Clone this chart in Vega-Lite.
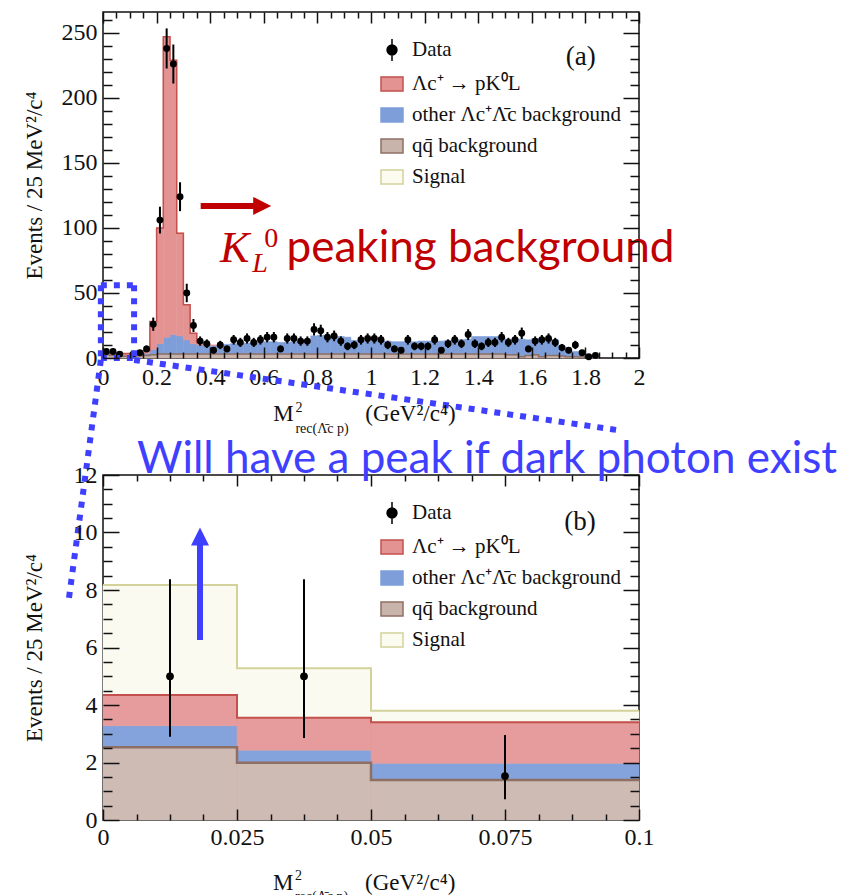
{
  "$schema": "https://vega.github.io/schema/vega-lite/v6.json",
  "padding": {"left": 22, "top": 10, "right": 2, "bottom": 0},
  "bounds": "flush",
  "spacing": 117,
  "config": {
    "font": "Liberation Serif",
    "view": {"stroke": "#111111", "strokeWidth": 1.5},
    "axis": {"grid": false, "domain": false, "labelFont": "Liberation Serif", "labelFontSize": 24, "labelColor": "#111111", "titleFont": "Liberation Serif", "titleFontSize": 23, "titleFontWeight": "normal", "titleColor": "#111111", "tickColor": "#111111", "tickWidth": 1.5, "labelFlush": false, "labelOverlap": false},
    "legend": {"labelFont": "Liberation Serif", "labelFontSize": 21, "labelColor": "#111111"}
  },
  "datasets": {
    "topmc": [
      {"lo": 0, "hi": 0.025, "a_qq": 2.5, "b_oth": 0.75, "c_kl": 1.05},
      {"lo": 0.025, "hi": 0.05, "a_qq": 2.0, "b_oth": 0.45, "c_kl": 1.15},
      {"lo": 0.05, "hi": 0.075, "a_qq": 1.4, "b_oth": 0.6, "c_kl": 1.4},
      {"lo": 0.075, "hi": 0.1, "a_qq": 1.4, "b_oth": 0.6, "c_kl": 1.4},
      {"lo": 0.1, "hi": 0.125, "a_qq": 1.5, "b_oth": 0.7, "c_kl": 1.3},
      {"lo": 0.125, "hi": 0.15, "a_qq": 1.8, "b_oth": 0.9, "c_kl": 1.3},
      {"lo": 0.15, "hi": 0.175, "a_qq": 2, "b_oth": 1.5, "c_kl": 2},
      {"lo": 0.175, "hi": 0.2, "a_qq": 2.5, "b_oth": 4, "c_kl": 21.5},
      {"lo": 0.2, "hi": 0.225, "a_qq": 3, "b_oth": 8, "c_kl": 89},
      {"lo": 0.225, "hi": 0.25, "a_qq": 3, "b_oth": 13, "c_kl": 231},
      {"lo": 0.25, "hi": 0.275, "a_qq": 3, "b_oth": 15, "c_kl": 211},
      {"lo": 0.275, "hi": 0.3, "a_qq": 3, "b_oth": 14, "c_kl": 79},
      {"lo": 0.3, "hi": 0.325, "a_qq": 3, "b_oth": 11, "c_kl": 27},
      {"lo": 0.325, "hi": 0.35, "a_qq": 3, "b_oth": 8, "c_kl": 8},
      {"lo": 0.35, "hi": 0.375, "a_qq": 3, "b_oth": 7, "c_kl": 2},
      {"lo": 0.375, "hi": 0.4, "a_qq": 3, "b_oth": 7, "c_kl": 0.5},
      {"lo": 0.4, "hi": 0.425, "a_qq": 3, "b_oth": 6.7, "c_kl": 0.3},
      {"lo": 0.425, "hi": 0.45, "a_qq": 3, "b_oth": 7, "c_kl": 0},
      {"lo": 0.45, "hi": 0.475, "a_qq": 3, "b_oth": 7.5, "c_kl": 0},
      {"lo": 0.475, "hi": 0.5, "a_qq": 3, "b_oth": 8, "c_kl": 0},
      {"lo": 0.5, "hi": 0.525, "a_qq": 3, "b_oth": 8, "c_kl": 0},
      {"lo": 0.525, "hi": 0.55, "a_qq": 3, "b_oth": 8.5, "c_kl": 0},
      {"lo": 0.55, "hi": 0.575, "a_qq": 3, "b_oth": 9, "c_kl": 0},
      {"lo": 0.575, "hi": 0.6, "a_qq": 3, "b_oth": 9, "c_kl": 0},
      {"lo": 0.6, "hi": 0.625, "a_qq": 3, "b_oth": 9.5, "c_kl": 0},
      {"lo": 0.625, "hi": 0.65, "a_qq": 3, "b_oth": 9.5, "c_kl": 0},
      {"lo": 0.65, "hi": 0.675, "a_qq": 3, "b_oth": 9, "c_kl": 0},
      {"lo": 0.675, "hi": 0.7, "a_qq": 3, "b_oth": 9, "c_kl": 0},
      {"lo": 0.7, "hi": 0.725, "a_qq": 3, "b_oth": 9.5, "c_kl": 0},
      {"lo": 0.725, "hi": 0.75, "a_qq": 3, "b_oth": 10, "c_kl": 0},
      {"lo": 0.75, "hi": 0.775, "a_qq": 3, "b_oth": 11, "c_kl": 0},
      {"lo": 0.775, "hi": 0.8, "a_qq": 3, "b_oth": 14, "c_kl": 0},
      {"lo": 0.8, "hi": 0.825, "a_qq": 3, "b_oth": 14.5, "c_kl": 0},
      {"lo": 0.825, "hi": 0.85, "a_qq": 3, "b_oth": 14, "c_kl": 0},
      {"lo": 0.85, "hi": 0.875, "a_qq": 3, "b_oth": 14, "c_kl": 0},
      {"lo": 0.875, "hi": 0.9, "a_qq": 3, "b_oth": 13.5, "c_kl": 0},
      {"lo": 0.9, "hi": 0.925, "a_qq": 3, "b_oth": 13, "c_kl": 0},
      {"lo": 0.925, "hi": 0.95, "a_qq": 3, "b_oth": 10.5, "c_kl": 0},
      {"lo": 0.95, "hi": 0.975, "a_qq": 3, "b_oth": 10, "c_kl": 0},
      {"lo": 0.975, "hi": 1.0, "a_qq": 3, "b_oth": 10, "c_kl": 0},
      {"lo": 1.0, "hi": 1.025, "a_qq": 3, "b_oth": 10, "c_kl": 0},
      {"lo": 1.025, "hi": 1.05, "a_qq": 3, "b_oth": 10, "c_kl": 0},
      {"lo": 1.05, "hi": 1.075, "a_qq": 3, "b_oth": 10, "c_kl": 0},
      {"lo": 1.075, "hi": 1.1, "a_qq": 3, "b_oth": 9.5, "c_kl": 0},
      {"lo": 1.1, "hi": 1.125, "a_qq": 3, "b_oth": 9.5, "c_kl": 0},
      {"lo": 1.125, "hi": 1.15, "a_qq": 3, "b_oth": 9.5, "c_kl": 0},
      {"lo": 1.15, "hi": 1.175, "a_qq": 3, "b_oth": 9.5, "c_kl": 0},
      {"lo": 1.175, "hi": 1.2, "a_qq": 3, "b_oth": 10, "c_kl": 0},
      {"lo": 1.2, "hi": 1.225, "a_qq": 3, "b_oth": 10, "c_kl": 0},
      {"lo": 1.225, "hi": 1.25, "a_qq": 3, "b_oth": 10, "c_kl": 0},
      {"lo": 1.25, "hi": 1.275, "a_qq": 3, "b_oth": 10, "c_kl": 0},
      {"lo": 1.275, "hi": 1.3, "a_qq": 3, "b_oth": 10.5, "c_kl": 0},
      {"lo": 1.3, "hi": 1.325, "a_qq": 3, "b_oth": 11, "c_kl": 0},
      {"lo": 1.325, "hi": 1.35, "a_qq": 3, "b_oth": 11, "c_kl": 0},
      {"lo": 1.35, "hi": 1.375, "a_qq": 3, "b_oth": 11.5, "c_kl": 0},
      {"lo": 1.375, "hi": 1.4, "a_qq": 3, "b_oth": 13.5, "c_kl": 0},
      {"lo": 1.4, "hi": 1.425, "a_qq": 3, "b_oth": 13.5, "c_kl": 0},
      {"lo": 1.425, "hi": 1.45, "a_qq": 3, "b_oth": 13.5, "c_kl": 0},
      {"lo": 1.45, "hi": 1.475, "a_qq": 3, "b_oth": 13.5, "c_kl": 0},
      {"lo": 1.475, "hi": 1.5, "a_qq": 3, "b_oth": 13, "c_kl": 0},
      {"lo": 1.5, "hi": 1.525, "a_qq": 2.5, "b_oth": 12, "c_kl": 0},
      {"lo": 1.525, "hi": 1.55, "a_qq": 2.5, "b_oth": 12, "c_kl": 0},
      {"lo": 1.55, "hi": 1.575, "a_qq": 1, "b_oth": 13.5, "c_kl": 0},
      {"lo": 1.575, "hi": 1.6, "a_qq": 2, "b_oth": 12, "c_kl": 0},
      {"lo": 1.6, "hi": 1.625, "a_qq": 2.5, "b_oth": 12.5, "c_kl": 0},
      {"lo": 1.625, "hi": 1.65, "a_qq": 1, "b_oth": 14, "c_kl": 0},
      {"lo": 1.65, "hi": 1.675, "a_qq": 2, "b_oth": 12.5, "c_kl": 0},
      {"lo": 1.675, "hi": 1.7, "a_qq": 2, "b_oth": 12, "c_kl": 0},
      {"lo": 1.7, "hi": 1.725, "a_qq": 1.5, "b_oth": 7.5, "c_kl": 0},
      {"lo": 1.725, "hi": 1.75, "a_qq": 1, "b_oth": 6, "c_kl": 0},
      {"lo": 1.75, "hi": 1.775, "a_qq": 1, "b_oth": 4, "c_kl": 0},
      {"lo": 1.775, "hi": 1.8, "a_qq": 0.8, "b_oth": 2.2, "c_kl": 0},
      {"lo": 1.8, "hi": 1.825, "a_qq": 0.5, "b_oth": 1, "c_kl": 0},
      {"lo": 1.825, "hi": 1.85, "a_qq": 0.3, "b_oth": 0.5, "c_kl": 0}
    ],
    "toppts": [
      {"x": 0.0125, "n": 5, "e": 2.2}, {"x": 0.0375, "n": 5, "e": 2.2}, {"x": 0.0625, "n": 3, "e": 1.7},
      {"x": 0.1125, "n": 3, "e": 1.7}, {"x": 0.1375, "n": 4, "e": 2}, {"x": 0.1625, "n": 7, "e": 2.6},
      {"x": 0.1875, "n": 26, "e": 5.1}, {"x": 0.2125, "n": 106, "e": 10.3}, {"x": 0.2375, "n": 238, "e": 15.4},
      {"x": 0.2625, "n": 226, "e": 15}, {"x": 0.2875, "n": 124, "e": 11.1}, {"x": 0.3125, "n": 50, "e": 7.1},
      {"x": 0.3375, "n": 25, "e": 5}, {"x": 0.3625, "n": 13, "e": 3.6}, {"x": 0.3875, "n": 11, "e": 3.3},
      {"x": 0.4125, "n": 6, "e": 2.4}, {"x": 0.4375, "n": 10, "e": 3.2}, {"x": 0.4625, "n": 7, "e": 2.6},
      {"x": 0.4875, "n": 14, "e": 3.7}, {"x": 0.5125, "n": 12, "e": 3.5}, {"x": 0.5375, "n": 15, "e": 3.9},
      {"x": 0.5625, "n": 12, "e": 3.5}, {"x": 0.5875, "n": 14, "e": 3.7}, {"x": 0.6125, "n": 16, "e": 4},
      {"x": 0.6375, "n": 16, "e": 4}, {"x": 0.6625, "n": 7, "e": 2.6}, {"x": 0.6875, "n": 15, "e": 3.9},
      {"x": 0.7125, "n": 15, "e": 3.9}, {"x": 0.7375, "n": 13, "e": 3.6}, {"x": 0.7625, "n": 13, "e": 3.6},
      {"x": 0.7875, "n": 22, "e": 4.7}, {"x": 0.8125, "n": 21, "e": 4.6}, {"x": 0.8375, "n": 16, "e": 4},
      {"x": 0.8625, "n": 17, "e": 4.1}, {"x": 0.8875, "n": 13, "e": 3.6}, {"x": 0.9125, "n": 9, "e": 3},
      {"x": 0.9375, "n": 10, "e": 3.2}, {"x": 0.9625, "n": 14, "e": 3.7}, {"x": 0.9875, "n": 15, "e": 3.9},
      {"x": 1.0125, "n": 15, "e": 3.9}, {"x": 1.0375, "n": 14, "e": 3.7}, {"x": 1.0625, "n": 10, "e": 3.2},
      {"x": 1.0875, "n": 7, "e": 2.6}, {"x": 1.1125, "n": 6, "e": 2.4}, {"x": 1.1375, "n": 14, "e": 3.7},
      {"x": 1.1625, "n": 9, "e": 3}, {"x": 1.1875, "n": 9, "e": 3}, {"x": 1.2125, "n": 9, "e": 3},
      {"x": 1.2375, "n": 14, "e": 3.7}, {"x": 1.2625, "n": 6, "e": 2.4}, {"x": 1.2875, "n": 11, "e": 3.3},
      {"x": 1.3125, "n": 14, "e": 3.7}, {"x": 1.3375, "n": 11, "e": 3.3}, {"x": 1.3625, "n": 18, "e": 4.2},
      {"x": 1.3875, "n": 11, "e": 3.3}, {"x": 1.4125, "n": 9, "e": 3}, {"x": 1.4375, "n": 12, "e": 3.5},
      {"x": 1.4625, "n": 12, "e": 3.5}, {"x": 1.4875, "n": 16, "e": 4}, {"x": 1.5125, "n": 12, "e": 3.5},
      {"x": 1.5375, "n": 14, "e": 3.7}, {"x": 1.5625, "n": 19, "e": 4.4}, {"x": 1.5875, "n": 7, "e": 2.6},
      {"x": 1.6125, "n": 13, "e": 3.6}, {"x": 1.6375, "n": 14, "e": 3.7}, {"x": 1.6625, "n": 15, "e": 3.9},
      {"x": 1.6875, "n": 12, "e": 3.5}, {"x": 1.7125, "n": 8, "e": 2.8}, {"x": 1.7375, "n": 6, "e": 2.4},
      {"x": 1.7625, "n": 10, "e": 3.2}, {"x": 1.7875, "n": 4, "e": 2}, {"x": 1.8125, "n": 1, "e": 1},
      {"x": 1.8375, "n": 2, "e": 1.4}
    ],
    "botmc": [
      {"lo": 0, "hi": 0.025, "a_qq": 2.53, "b_oth": 0.75, "c_kl": 1.07, "d_sig": 3.82},
      {"lo": 0.025, "hi": 0.05, "a_qq": 1.99, "b_oth": 0.44, "c_kl": 1.13, "d_sig": 1.72},
      {"lo": 0.05, "hi": 0.1, "a_qq": 1.39, "b_oth": 0.58, "c_kl": 1.43, "d_sig": 0.4}
    ],
    "botpts": [
      {"x": 0.0125, "n": 5, "lo": 2.9, "hi": 8.37},
      {"x": 0.0375, "n": 5, "lo": 2.85, "hi": 8.37},
      {"x": 0.075, "n": 1.53, "lo": 0.72, "hi": 2.96}
    ],
    "leg": [
      {"label": "Data"},
      {"label": "Λc⁺ → pK⁰L"},
      {"label": "other Λc⁺Λ̄c background"},
      {"label": "qq̄ background"},
      {"label": "Signal"}
    ],
    "ax": [{"a": 0, "b": 0}]
  },
  "resolve": {"scale": {"x": "independent", "y": "independent", "color": "independent", "fill": "independent", "stroke": "independent", "shape": "independent"}, "legend": {"fill": "independent", "stroke": "independent", "shape": "independent"}},
  "vconcat": [
    {
      "width": 536,
      "height": 346,
      "resolve": {"axis": {"x": "independent", "y": "independent"}},
      "layer": [
        {
          "data": {"name": "topmc"},
          "transform": [
            {"fold": ["a_qq", "b_oth", "c_kl"], "as": ["comp", "v"]},
            {"stack": "v", "groupby": ["lo"], "sort": [{"field": "comp", "order": "ascending"}], "as": ["y0", "y1"]},
            {"filter": "datum.comp == 'a_qq'"}
          ],
          "mark": {"type": "rect", "fill": "#C9B4AC", "stroke": "#C9B4AC", "strokeWidth": 0.6},
          "encoding": {
            "x": {"field": "lo", "type": "quantitative", "scale": {"domain": [0, 2], "nice": false}, "axis": null},
            "x2": {"field": "hi"},
            "y": {"field": "y0", "type": "quantitative", "scale": {"domain": [0, 266], "nice": false}, "axis": null},
            "y2": {"field": "y1"}
          }
        },
        {
          "data": {"name": "topmc"},
          "transform": [
            {"fold": ["a_qq", "b_oth", "c_kl"], "as": ["comp", "v"]},
            {"stack": "v", "groupby": ["lo"], "sort": [{"field": "comp", "order": "ascending"}], "as": ["y0", "y1"]},
            {"filter": "datum.comp == 'b_oth'"}
          ],
          "mark": {"type": "rect", "fill": "#7E9ED9", "stroke": "#7E9ED9", "strokeWidth": 0.6},
          "encoding": {
            "x": {"field": "lo", "type": "quantitative", "scale": {"domain": [0, 2], "nice": false}, "axis": null},
            "x2": {"field": "hi"},
            "y": {"field": "y0", "type": "quantitative", "scale": {"domain": [0, 266], "nice": false}, "axis": null},
            "y2": {"field": "y1"}
          }
        },
        {
          "data": {"name": "topmc"},
          "transform": [
            {"fold": ["a_qq", "b_oth", "c_kl"], "as": ["comp", "v"]},
            {"stack": "v", "groupby": ["lo"], "sort": [{"field": "comp", "order": "ascending"}], "as": ["y0", "y1"]},
            {"filter": "datum.comp == 'c_kl' && datum.v > 0"}
          ],
          "mark": {"type": "rect", "fill": "#E49393", "stroke": "#E49393", "strokeWidth": 0.6},
          "encoding": {
            "x": {"field": "lo", "type": "quantitative", "scale": {"domain": [0, 2], "nice": false}, "axis": null},
            "x2": {"field": "hi"},
            "y": {"field": "y0", "type": "quantitative", "scale": {"domain": [0, 266], "nice": false}, "axis": null},
            "y2": {"field": "y1"}
          }
        },
        {
          "data": {"name": "topmc"},
          "transform": [
            {"fold": ["a_qq", "b_oth", "c_kl"], "as": ["comp", "v"]},
            {"stack": "v", "groupby": ["lo"], "sort": [{"field": "comp", "order": "ascending"}], "as": ["y0", "y1"]},
            {"filter": "datum.comp == 'c_kl' && datum.v > 0.4"},
            {"fold": ["lo", "hi"], "as": ["k", "edge"]},
            {"window": [{"op": "row_number", "as": "rn"}], "sort": [{"field": "lo"}, {"field": "edge"}]}
          ],
          "mark": {"type": "line", "color": "#C4504E", "strokeWidth": 1.5},
          "encoding": {
            "x": {"field": "edge", "type": "quantitative", "scale": {"domain": [0, 2], "nice": false}, "axis": null},
            "y": {"field": "y1", "type": "quantitative", "scale": {"domain": [0, 266], "nice": false}, "axis": null},
            "order": {"field": "rn", "type": "quantitative"}
          }
        },
        {
          "data": {"name": "topmc"},
          "transform": [
            {"fold": ["a_qq", "b_oth", "c_kl"], "as": ["comp", "v"]},
            {"stack": "v", "groupby": ["lo"], "sort": [{"field": "comp", "order": "ascending"}], "as": ["y0", "y1"]},
            {"filter": "datum.comp == 'a_qq'"},
            {"fold": ["lo", "hi"], "as": ["k", "edge"]},
            {"window": [{"op": "row_number", "as": "rn"}], "sort": [{"field": "lo"}, {"field": "edge"}]}
          ],
          "mark": {"type": "line", "color": "#8E6F64", "strokeWidth": 1.5},
          "encoding": {
            "x": {"field": "edge", "type": "quantitative", "scale": {"domain": [0, 2], "nice": false}, "axis": null},
            "y": {"field": "y1", "type": "quantitative", "scale": {"domain": [0, 266], "nice": false}, "axis": null},
            "order": {"field": "rn", "type": "quantitative"}
          }
        },
        {
          "data": {"name": "toppts"},
          "mark": {"type": "errorbar", "color": "#000000", "thickness": 2},
          "encoding": {
            "x": {"field": "x", "type": "quantitative", "scale": {"domain": [0, 2], "nice": false}, "axis": null},
            "y": {"field": "n", "type": "quantitative", "scale": {"domain": [0, 266], "nice": false}, "axis": null},
            "yError": {"field": "e"}
          }
        },
        {
          "data": {"name": "toppts"},
          "mark": {"type": "circle", "color": "#000000", "size": 48, "opacity": 1},
          "encoding": {
            "x": {"field": "x", "type": "quantitative", "scale": {"domain": [0, 2], "nice": false}, "axis": null},
            "y": {"field": "n", "type": "quantitative", "scale": {"domain": [0, 266], "nice": false}, "axis": null}
          }
        },
        {
          "data": {"name": "leg"},
          "mark": {"type": "point", "filled": true, "opacity": 0},
          "encoding": {
            "fill": {"field": "label", "type": "nominal", "scale": {"domain": ["Data", "Λc⁺ → pK⁰L", "other Λc⁺Λ̄c background", "qq̄ background", "Signal"], "range": ["#000000", "#E49393", "#7E9ED9", "#C9B4AC", "#FBFBF0"]}, "legend": {"orient": "none", "legendX": 277, "legendY": 26, "title": null, "symbolSize": 484, "labelOffset": 8, "rowPadding": 8, "symbolStrokeWidth": 1.5, "symbolOpacity": 1, "padding": 0, "labelLimit": 400, "labelFontSize": 21}},
            "stroke": {"field": "label", "type": "nominal", "scale": {"domain": ["Data", "Λc⁺ → pK⁰L", "other Λc⁺Λ̄c background", "qq̄ background", "Signal"], "range": ["#000000", "#C4504E", "#7E9ED9", "#8E6F64", "#D2D29A"]}, "legend": {"orient": "none", "legendX": 277, "legendY": 26, "title": null, "symbolSize": 484, "labelOffset": 8, "rowPadding": 8, "symbolStrokeWidth": 1.5, "symbolOpacity": 1, "padding": 0, "labelLimit": 400, "labelFontSize": 21}},
            "shape": {"field": "label", "type": "nominal", "scale": {"domain": ["Data", "Λc⁺ → pK⁰L", "other Λc⁺Λ̄c background", "qq̄ background", "Signal"], "range": ["M0,-1V1M0.45,0A0.45,0.45,0,1,1,-0.45,0A0.45,0.45,0,1,1,0.45,0Z", "M-1,-0.64H1V0.64H-1Z", "M-1,-0.64H1V0.64H-1Z", "M-1,-0.64H1V0.64H-1Z", "M-1,-0.64H1V0.64H-1Z"]}, "legend": {"orient": "none", "legendX": 277, "legendY": 26, "title": null, "symbolSize": 484, "labelOffset": 8, "rowPadding": 8, "symbolStrokeWidth": 1.5, "symbolOpacity": 1, "padding": 0, "labelLimit": 400, "labelFontSize": 21}}
          }
        },
        {
          "data": {"values": [{"x": 1.783, "y": 231.5, "t": "(a)"}]},
          "mark": {"type": "text", "font": "Liberation Serif", "fontSize": 27, "color": "#111111", "align": "center", "baseline": "middle"},
          "encoding": {
            "x": {"field": "x", "type": "quantitative", "scale": {"domain": [0, 2], "nice": false}, "axis": null},
            "y": {"field": "y", "type": "quantitative", "scale": {"domain": [0, 266], "nice": false}, "axis": null},
            "text": {"field": "t"}
          }
        },
        {
          "data": {"values": [{"x": 0.3645, "x2": 0.566, "y": 116.9}]},
          "mark": {"type": "rule", "color": "#C00000", "strokeWidth": 6},
          "encoding": {
            "x": {"field": "x", "type": "quantitative", "scale": {"domain": [0, 2], "nice": false}, "axis": null},
            "x2": {"field": "x2"},
            "y": {"field": "y", "type": "quantitative", "scale": {"domain": [0, 266], "nice": false}, "axis": null}
          }
        },
        {
          "data": {"values": [{"x": 0.594, "y": 116.9}]},
          "mark": {"type": "point", "shape": "M-1,-1L1,0L-1,1Z", "filled": true, "color": "#C00000", "size": 324, "opacity": 1},
          "encoding": {
            "x": {"field": "x", "type": "quantitative", "scale": {"domain": [0, 2], "nice": false}, "axis": null},
            "y": {"field": "y", "type": "quantitative", "scale": {"domain": [0, 266], "nice": false}, "axis": null}
          }
        },
        {
          "data": {"values": [{"x": 0.685, "y": 74, "t": "peaking background"}]},
          "mark": {"type": "text", "font": "Lato", "fontSize": 44, "color": "#C00000", "align": "left", "baseline": "alphabetic"},
          "encoding": {
            "x": {"field": "x", "type": "quantitative", "scale": {"domain": [0, 2], "nice": false}, "axis": null},
            "y": {"field": "y", "type": "quantitative", "scale": {"domain": [0, 266], "nice": false}, "axis": null},
            "text": {"field": "t"}
          }
        },
        {
          "data": {"values": [{"x": 0.437, "y": 74, "t": "K"}]},
          "mark": {"type": "text", "font": "Liberation Serif", "fontStyle": "italic", "fontSize": 44, "color": "#C00000", "align": "left", "baseline": "alphabetic"},
          "encoding": {
            "x": {"field": "x", "type": "quantitative", "scale": {"domain": [0, 2], "nice": false}, "axis": null},
            "y": {"field": "y", "type": "quantitative", "scale": {"domain": [0, 266], "nice": false}, "axis": null},
            "text": {"field": "t"}
          }
        },
        {
          "data": {"values": [{"x": 0.602, "y": 85.6, "t": "0"}]},
          "mark": {"type": "text", "font": "Liberation Serif", "fontSize": 28, "color": "#C00000", "align": "left", "baseline": "alphabetic"},
          "encoding": {
            "x": {"field": "x", "type": "quantitative", "scale": {"domain": [0, 2], "nice": false}, "axis": null},
            "y": {"field": "y", "type": "quantitative", "scale": {"domain": [0, 266], "nice": false}, "axis": null},
            "text": {"field": "t"}
          }
        },
        {
          "data": {"values": [{"x": 0.557, "y": 66.2, "t": "L"}]},
          "mark": {"type": "text", "font": "Liberation Serif", "fontStyle": "italic", "fontSize": 28, "color": "#C00000", "align": "left", "baseline": "alphabetic"},
          "encoding": {
            "x": {"field": "x", "type": "quantitative", "scale": {"domain": [0, 2], "nice": false}, "axis": null},
            "y": {"field": "y", "type": "quantitative", "scale": {"domain": [0, 266], "nice": false}, "axis": null},
            "text": {"field": "t"}
          }
        },
        {
          "data": {"values": [
            {"x": -0.008, "y": 56, "x2": 0.116, "y2": 56},
            {"x": -0.008, "y": 56, "x2": -0.008, "y2": 0},
            {"x": 0.116, "y": 56, "x2": 0.116, "y2": 0},
            {"x": -0.008, "y": 0, "x2": 0.116, "y2": 0},
            {"x": 0.116, "y": -1.5, "x2": 1.94, "y2": -56},
            {"x": -0.008, "y": -1.5, "x2": -0.127, "y2": -184.6}
          ]},
          "mark": {"type": "rule", "color": "#3F3FFF", "strokeWidth": 6, "strokeDash": [6, 7], "strokeCap": "butt"},
          "encoding": {
            "x": {"field": "x", "type": "quantitative", "scale": {"domain": [0, 2], "nice": false}, "axis": null},
            "y": {"field": "y", "type": "quantitative", "scale": {"domain": [0, 266], "nice": false}, "axis": null},
            "x2": {"field": "x2"},
            "y2": {"field": "y2"}
          }
        },
        {
          "data": {"values": [{"x": 0.6355, "y": -48.5, "t": "M"}, {"x": 0.979, "y": -48.5, "t": "(GeV²/c⁴)"}]},
          "mark": {"type": "text", "font": "Liberation Serif", "fontSize": 23, "color": "#111111", "align": "left", "baseline": "alphabetic"},
          "encoding": {
            "x": {"field": "x", "type": "quantitative", "scale": {"domain": [0, 2], "nice": false}, "axis": null},
            "y": {"field": "y", "type": "quantitative", "scale": {"domain": [0, 266], "nice": false}, "axis": null},
            "text": {"field": "t"}
          }
        },
        {
          "data": {"values": [{"x": 0.718, "y": -41.5, "t": "2"}, {"x": 0.718, "y": -57.7, "t": "rec(Λ̄c p)"}]},
          "mark": {"type": "text", "font": "Liberation Serif", "fontSize": 14, "color": "#111111", "align": "left", "baseline": "alphabetic"},
          "encoding": {
            "x": {"field": "x", "type": "quantitative", "scale": {"domain": [0, 2], "nice": false}, "axis": null},
            "y": {"field": "y", "type": "quantitative", "scale": {"domain": [0, 266], "nice": false}, "axis": null},
            "text": {"field": "t"}
          }
        },
        {
          "data": {"name": "ax"},
          "mark": {"type": "point", "opacity": 0},
          "encoding": {
            "x": {"field": "a", "type": "quantitative", "scale": {"domain": [0, 2], "nice": false}, "axis": {"orient": "bottom", "values": [0, 0.2, 0.4, 0.6, 0.8, 1, 1.2, 1.4, 1.6, 1.8, 2], "labelExpr": "datum.value", "ticks": false, "labelPadding": 7, "title": null}},
            "y": {"field": "b", "type": "quantitative", "scale": {"domain": [0, 266], "nice": false}, "axis": {"orient": "left", "values": [0, 50, 100, 150, 200, 250], "ticks": false, "labelPadding": 6, "title": "Events / 25 MeV²/c⁴", "titlePadding": 15}}
          }
        },
        {
          "data": {"name": "ax"},
          "mark": {"type": "point", "opacity": 0},
          "encoding": {
            "x": {"field": "a", "type": "quantitative", "scale": {"domain": [0, 2], "nice": false}, "axis": {"orient": "bottom", "values": [0, 0.2, 0.4, 0.6, 0.8, 1, 1.2, 1.4, 1.6, 1.8, 2], "labels": false, "tickSize": -11, "title": null, "zindex": 1}},
            "y": {"field": "b", "type": "quantitative", "scale": {"domain": [0, 266], "nice": false}, "axis": {"orient": "left", "values": [0, 50, 100, 150, 200, 250], "labels": false, "tickSize": -16, "title": null, "zindex": 1}}
          }
        },
        {
          "data": {"name": "ax"},
          "mark": {"type": "point", "opacity": 0},
          "encoding": {
            "x": {"field": "a", "type": "quantitative", "scale": {"domain": [0, 2], "nice": false}, "axis": {"orient": "bottom", "values": [0.05, 0.1, 0.15, 0.25, 0.3, 0.35, 0.45, 0.5, 0.55, 0.65, 0.7, 0.75, 0.85, 0.9, 0.95, 1.05, 1.1, 1.15, 1.25, 1.3, 1.35, 1.45, 1.5, 1.55, 1.65, 1.7, 1.75, 1.85, 1.9, 1.95], "labels": false, "tickSize": -6, "title": null, "zindex": 1}},
            "y": {"field": "b", "type": "quantitative", "scale": {"domain": [0, 266], "nice": false}, "axis": {"orient": "left", "values": [10, 20, 30, 40, 60, 70, 80, 90, 110, 120, 130, 140, 160, 170, 180, 190, 210, 220, 230, 240, 260], "labels": false, "tickSize": -9, "title": null, "zindex": 1}}
          }
        },
        {
          "data": {"name": "ax"},
          "mark": {"type": "point", "opacity": 0},
          "encoding": {
            "x": {"field": "a", "type": "quantitative", "scale": {"domain": [0, 2], "nice": false}, "axis": {"orient": "top", "values": [0, 0.2, 0.4, 0.6, 0.8, 1, 1.2, 1.4, 1.6, 1.8, 2], "labels": false, "tickSize": -11, "title": null, "zindex": 1}},
            "y": {"field": "b", "type": "quantitative", "scale": {"domain": [0, 266], "nice": false}, "axis": {"orient": "right", "values": [0, 50, 100, 150, 200, 250], "labels": false, "tickSize": -16, "title": null, "zindex": 1}}
          }
        },
        {
          "data": {"name": "ax"},
          "mark": {"type": "point", "opacity": 0},
          "encoding": {
            "x": {"field": "a", "type": "quantitative", "scale": {"domain": [0, 2], "nice": false}, "axis": {"orient": "top", "values": [0.05, 0.1, 0.15, 0.25, 0.3, 0.35, 0.45, 0.5, 0.55, 0.65, 0.7, 0.75, 0.85, 0.9, 0.95, 1.05, 1.1, 1.15, 1.25, 1.3, 1.35, 1.45, 1.5, 1.55, 1.65, 1.7, 1.75, 1.85, 1.9, 1.95], "labels": false, "tickSize": -6, "title": null, "zindex": 1}},
            "y": {"field": "b", "type": "quantitative", "scale": {"domain": [0, 266], "nice": false}, "axis": {"orient": "right", "values": [10, 20, 30, 40, 60, 70, 80, 90, 110, 120, 130, 140, 160, 170, 180, 190, 210, 220, 230, 240, 260], "labels": false, "tickSize": -9, "title": null, "zindex": 1}}
          }
        }
      ]
    },
    {
      "width": 536,
      "height": 345,
      "resolve": {"axis": {"x": "independent", "y": "independent"}},
      "layer": [
        {
          "data": {"name": "botmc"},
          "transform": [
            {"fold": ["a_qq", "b_oth", "c_kl", "d_sig"], "as": ["comp", "v"]},
            {"stack": "v", "groupby": ["lo"], "sort": [{"field": "comp", "order": "ascending"}], "as": ["y0", "y1"]},
            {"filter": "datum.comp == 'a_qq'"}
          ],
          "mark": {"type": "rect", "fill": "#CDBBB4", "stroke": "#CDBBB4", "strokeWidth": 0.6},
          "encoding": {
            "x": {"field": "lo", "type": "quantitative", "scale": {"domain": [0, 0.1], "nice": false}, "axis": null},
            "x2": {"field": "hi"},
            "y": {"field": "y0", "type": "quantitative", "scale": {"domain": [0, 12], "nice": false}, "axis": null},
            "y2": {"field": "y1"}
          }
        },
        {
          "data": {"name": "botmc"},
          "transform": [
            {"fold": ["a_qq", "b_oth", "c_kl", "d_sig"], "as": ["comp", "v"]},
            {"stack": "v", "groupby": ["lo"], "sort": [{"field": "comp", "order": "ascending"}], "as": ["y0", "y1"]},
            {"filter": "datum.comp == 'b_oth'"}
          ],
          "mark": {"type": "rect", "fill": "#84A3DC", "stroke": "#84A3DC", "strokeWidth": 0.6},
          "encoding": {
            "x": {"field": "lo", "type": "quantitative", "scale": {"domain": [0, 0.1], "nice": false}, "axis": null},
            "x2": {"field": "hi"},
            "y": {"field": "y0", "type": "quantitative", "scale": {"domain": [0, 12], "nice": false}, "axis": null},
            "y2": {"field": "y1"}
          }
        },
        {
          "data": {"name": "botmc"},
          "transform": [
            {"fold": ["a_qq", "b_oth", "c_kl", "d_sig"], "as": ["comp", "v"]},
            {"stack": "v", "groupby": ["lo"], "sort": [{"field": "comp", "order": "ascending"}], "as": ["y0", "y1"]},
            {"filter": "datum.comp == 'c_kl'"}
          ],
          "mark": {"type": "rect", "fill": "#E69C9C", "stroke": "#E69C9C", "strokeWidth": 0.6},
          "encoding": {
            "x": {"field": "lo", "type": "quantitative", "scale": {"domain": [0, 0.1], "nice": false}, "axis": null},
            "x2": {"field": "hi"},
            "y": {"field": "y0", "type": "quantitative", "scale": {"domain": [0, 12], "nice": false}, "axis": null},
            "y2": {"field": "y1"}
          }
        },
        {
          "data": {"name": "botmc"},
          "transform": [
            {"fold": ["a_qq", "b_oth", "c_kl", "d_sig"], "as": ["comp", "v"]},
            {"stack": "v", "groupby": ["lo"], "sort": [{"field": "comp", "order": "ascending"}], "as": ["y0", "y1"]},
            {"filter": "datum.comp == 'd_sig'"}
          ],
          "mark": {"type": "rect", "fill": "#FAFAF0", "stroke": "#FAFAF0", "strokeWidth": 0.6},
          "encoding": {
            "x": {"field": "lo", "type": "quantitative", "scale": {"domain": [0, 0.1], "nice": false}, "axis": null},
            "x2": {"field": "hi"},
            "y": {"field": "y0", "type": "quantitative", "scale": {"domain": [0, 12], "nice": false}, "axis": null},
            "y2": {"field": "y1"}
          }
        },
        {
          "data": {"name": "botmc"},
          "transform": [
            {"fold": ["a_qq", "b_oth", "c_kl", "d_sig"], "as": ["comp", "v"]},
            {"stack": "v", "groupby": ["lo"], "sort": [{"field": "comp", "order": "ascending"}], "as": ["y0", "y1"]},
            {"filter": "datum.comp == 'd_sig'"},
            {"fold": ["lo", "hi"], "as": ["k", "edge"]},
            {"window": [{"op": "row_number", "as": "rn"}], "sort": [{"field": "lo"}, {"field": "edge"}]}
          ],
          "mark": {"type": "line", "color": "#D2D29A", "strokeWidth": 2},
          "encoding": {
            "x": {"field": "edge", "type": "quantitative", "scale": {"domain": [0, 0.1], "nice": false}, "axis": null},
            "y": {"field": "y1", "type": "quantitative", "scale": {"domain": [0, 12], "nice": false}, "axis": null},
            "order": {"field": "rn", "type": "quantitative"}
          }
        },
        {
          "data": {"name": "botmc"},
          "transform": [
            {"fold": ["a_qq", "b_oth", "c_kl", "d_sig"], "as": ["comp", "v"]},
            {"stack": "v", "groupby": ["lo"], "sort": [{"field": "comp", "order": "ascending"}], "as": ["y0", "y1"]},
            {"filter": "datum.comp == 'c_kl'"},
            {"fold": ["lo", "hi"], "as": ["k", "edge"]},
            {"window": [{"op": "row_number", "as": "rn"}], "sort": [{"field": "lo"}, {"field": "edge"}]}
          ],
          "mark": {"type": "line", "color": "#C4504E", "strokeWidth": 2},
          "encoding": {
            "x": {"field": "edge", "type": "quantitative", "scale": {"domain": [0, 0.1], "nice": false}, "axis": null},
            "y": {"field": "y1", "type": "quantitative", "scale": {"domain": [0, 12], "nice": false}, "axis": null},
            "order": {"field": "rn", "type": "quantitative"}
          }
        },
        {
          "data": {"name": "botmc"},
          "transform": [
            {"fold": ["a_qq", "b_oth", "c_kl", "d_sig"], "as": ["comp", "v"]},
            {"stack": "v", "groupby": ["lo"], "sort": [{"field": "comp", "order": "ascending"}], "as": ["y0", "y1"]},
            {"filter": "datum.comp == 'a_qq'"},
            {"fold": ["lo", "hi"], "as": ["k", "edge"]},
            {"window": [{"op": "row_number", "as": "rn"}], "sort": [{"field": "lo"}, {"field": "edge"}]}
          ],
          "mark": {"type": "line", "color": "#8E6F64", "strokeWidth": 2.5},
          "encoding": {
            "x": {"field": "edge", "type": "quantitative", "scale": {"domain": [0, 0.1], "nice": false}, "axis": null},
            "y": {"field": "y1", "type": "quantitative", "scale": {"domain": [0, 12], "nice": false}, "axis": null},
            "order": {"field": "rn", "type": "quantitative"}
          }
        },
        {
          "data": {"name": "botpts"},
          "mark": {"type": "rule", "color": "#000000", "strokeWidth": 2},
          "encoding": {
            "x": {"field": "x", "type": "quantitative", "scale": {"domain": [0, 0.1], "nice": false}, "axis": null},
            "y": {"field": "lo", "type": "quantitative", "scale": {"domain": [0, 12], "nice": false}, "axis": null},
            "y2": {"field": "hi"}
          }
        },
        {
          "data": {"name": "botpts"},
          "mark": {"type": "circle", "color": "#000000", "size": 60, "opacity": 1},
          "encoding": {
            "x": {"field": "x", "type": "quantitative", "scale": {"domain": [0, 0.1], "nice": false}, "axis": null},
            "y": {"field": "n", "type": "quantitative", "scale": {"domain": [0, 12], "nice": false}, "axis": null}
          }
        },
        {
          "data": {"name": "leg"},
          "mark": {"type": "point", "filled": true, "opacity": 0},
          "encoding": {
            "fill": {"field": "label", "type": "nominal", "scale": {"domain": ["Data", "Λc⁺ → pK⁰L", "other Λc⁺Λ̄c background", "qq̄ background", "Signal"], "range": ["#000000", "#E49393", "#7E9ED9", "#C9B4AC", "#FBFBF0"]}, "legend": {"orient": "none", "legendX": 277, "legendY": 26, "title": null, "symbolSize": 484, "labelOffset": 8, "rowPadding": 8, "symbolStrokeWidth": 1.5, "symbolOpacity": 1, "padding": 0, "labelLimit": 400, "labelFontSize": 21}},
            "stroke": {"field": "label", "type": "nominal", "scale": {"domain": ["Data", "Λc⁺ → pK⁰L", "other Λc⁺Λ̄c background", "qq̄ background", "Signal"], "range": ["#000000", "#C4504E", "#7E9ED9", "#8E6F64", "#D2D29A"]}, "legend": {"orient": "none", "legendX": 277, "legendY": 26, "title": null, "symbolSize": 484, "labelOffset": 8, "rowPadding": 8, "symbolStrokeWidth": 1.5, "symbolOpacity": 1, "padding": 0, "labelLimit": 400, "labelFontSize": 21}},
            "shape": {"field": "label", "type": "nominal", "scale": {"domain": ["Data", "Λc⁺ → pK⁰L", "other Λc⁺Λ̄c background", "qq̄ background", "Signal"], "range": ["M0,-1V1M0.45,0A0.45,0.45,0,1,1,-0.45,0A0.45,0.45,0,1,1,0.45,0Z", "M-1,-0.64H1V0.64H-1Z", "M-1,-0.64H1V0.64H-1Z", "M-1,-0.64H1V0.64H-1Z", "M-1,-0.64H1V0.64H-1Z"]}, "legend": {"orient": "none", "legendX": 277, "legendY": 26, "title": null, "symbolSize": 484, "labelOffset": 8, "rowPadding": 8, "symbolStrokeWidth": 1.5, "symbolOpacity": 1, "padding": 0, "labelLimit": 400, "labelFontSize": 21}}
          }
        },
        {
          "data": {"values": [{"x": 0.089, "y": 10.37, "t": "(b)"}]},
          "mark": {"type": "text", "font": "Liberation Serif", "fontSize": 27, "color": "#111111", "align": "center", "baseline": "middle"},
          "encoding": {
            "x": {"field": "x", "type": "quantitative", "scale": {"domain": [0, 0.1], "nice": false}, "axis": null},
            "y": {"field": "y", "type": "quantitative", "scale": {"domain": [0, 12], "nice": false}, "axis": null},
            "text": {"field": "t"}
          }
        },
        {
          "data": {"values": [{"x": 0.0181, "y": 6.26, "y2": 9.6}]},
          "mark": {"type": "rule", "color": "#3F3FFF", "strokeWidth": 6},
          "encoding": {
            "x": {"field": "x", "type": "quantitative", "scale": {"domain": [0, 0.1], "nice": false}, "axis": null},
            "y": {"field": "y", "type": "quantitative", "scale": {"domain": [0, 12], "nice": false}, "axis": null},
            "y2": {"field": "y2"}
          }
        },
        {
          "data": {"values": [{"x": 0.0181, "y": 9.86}]},
          "mark": {"type": "point", "shape": "M-1,1L0,-1L1,1Z", "filled": true, "color": "#3F3FFF", "size": 324, "opacity": 1},
          "encoding": {
            "x": {"field": "x", "type": "quantitative", "scale": {"domain": [0, 0.1], "nice": false}, "axis": null},
            "y": {"field": "y", "type": "quantitative", "scale": {"domain": [0, 12], "nice": false}, "axis": null}
          }
        },
        {
          "data": {"values": [{"x": 0.00634, "y": 12.07, "t": "Will have a peak if dark photon exist"}]},
          "mark": {"type": "text", "font": "Lato", "fontSize": 44, "color": "#3F3FFF", "align": "left", "baseline": "alphabetic"},
          "encoding": {
            "x": {"field": "x", "type": "quantitative", "scale": {"domain": [0, 0.1], "nice": false}, "axis": null},
            "y": {"field": "y", "type": "quantitative", "scale": {"domain": [0, 12], "nice": false}, "axis": null},
            "text": {"field": "t"}
          }
        },
        {
          "data": {"values": [{"x": 0.0317, "y": -2.43, "t": "M"}, {"x": 0.0489, "y": -2.43, "t": "(GeV²/c⁴)"}]},
          "mark": {"type": "text", "font": "Liberation Serif", "fontSize": 23, "color": "#111111", "align": "left", "baseline": "alphabetic"},
          "encoding": {
            "x": {"field": "x", "type": "quantitative", "scale": {"domain": [0, 0.1], "nice": false}, "axis": null},
            "y": {"field": "y", "type": "quantitative", "scale": {"domain": [0, 12], "nice": false}, "axis": null},
            "text": {"field": "t"}
          }
        },
        {
          "data": {"values": [{"x": 0.0358, "y": -2.09, "t": "2"}, {"x": 0.0358, "y": -2.8, "t": "rec(Λ̄c p)"}]},
          "mark": {"type": "text", "font": "Liberation Serif", "fontSize": 14, "color": "#111111", "align": "left", "baseline": "alphabetic"},
          "encoding": {
            "x": {"field": "x", "type": "quantitative", "scale": {"domain": [0, 0.1], "nice": false}, "axis": null},
            "y": {"field": "y", "type": "quantitative", "scale": {"domain": [0, 12], "nice": false}, "axis": null},
            "text": {"field": "t"}
          }
        },
        {
          "data": {"name": "ax"},
          "mark": {"type": "point", "opacity": 0},
          "encoding": {
            "x": {"field": "a", "type": "quantitative", "scale": {"domain": [0, 0.1], "nice": false}, "axis": {"orient": "bottom", "values": [0, 0.025, 0.05, 0.075, 0.1], "labelExpr": "datum.value", "ticks": false, "labelPadding": 5, "title": null}},
            "y": {"field": "b", "type": "quantitative", "scale": {"domain": [0, 12], "nice": false}, "axis": {"orient": "left", "values": [0, 2, 4, 6, 8, 10, 12], "ticks": false, "labelPadding": 6, "title": "Events / 25 MeV²/c⁴", "titlePadding": 27}}
          }
        },
        {
          "data": {"name": "ax"},
          "mark": {"type": "point", "opacity": 0},
          "encoding": {
            "x": {"field": "a", "type": "quantitative", "scale": {"domain": [0, 0.1], "nice": false}, "axis": {"orient": "bottom", "values": [0, 0.025, 0.05, 0.075, 0.1], "labels": false, "tickSize": -11, "title": null, "zindex": 1}},
            "y": {"field": "b", "type": "quantitative", "scale": {"domain": [0, 12], "nice": false}, "axis": {"orient": "left", "values": [0, 2, 4, 6, 8, 10, 12], "labels": false, "tickSize": -16, "title": null, "zindex": 1}}
          }
        },
        {
          "data": {"name": "ax"},
          "mark": {"type": "point", "opacity": 0},
          "encoding": {
            "x": {"field": "a", "type": "quantitative", "scale": {"domain": [0, 0.1], "nice": false}, "axis": {"orient": "bottom", "values": [0.00625, 0.0125, 0.01875, 0.03125, 0.0375, 0.04375, 0.05625, 0.0625, 0.06875, 0.08125, 0.0875, 0.09375], "labels": false, "tickSize": -6, "title": null, "zindex": 1}},
            "y": {"field": "b", "type": "quantitative", "scale": {"domain": [0, 12], "nice": false}, "axis": {"orient": "left", "values": [0.5, 1, 1.5, 2.5, 3, 3.5, 4.5, 5, 5.5, 6.5, 7, 7.5, 8.5, 9, 9.5, 10.5, 11, 11.5], "labels": false, "tickSize": -9, "title": null, "zindex": 1}}
          }
        },
        {
          "data": {"name": "ax"},
          "mark": {"type": "point", "opacity": 0},
          "encoding": {
            "x": {"field": "a", "type": "quantitative", "scale": {"domain": [0, 0.1], "nice": false}, "axis": {"orient": "top", "values": [0, 0.025, 0.05, 0.075, 0.1], "labels": false, "tickSize": -11, "title": null, "zindex": 1}},
            "y": {"field": "b", "type": "quantitative", "scale": {"domain": [0, 12], "nice": false}, "axis": {"orient": "right", "values": [0, 2, 4, 6, 8, 10, 12], "labels": false, "tickSize": -16, "title": null, "zindex": 1}}
          }
        },
        {
          "data": {"name": "ax"},
          "mark": {"type": "point", "opacity": 0},
          "encoding": {
            "x": {"field": "a", "type": "quantitative", "scale": {"domain": [0, 0.1], "nice": false}, "axis": {"orient": "top", "values": [0.00625, 0.0125, 0.01875, 0.03125, 0.0375, 0.04375, 0.05625, 0.0625, 0.06875, 0.08125, 0.0875, 0.09375], "labels": false, "tickSize": -6, "title": null, "zindex": 1}},
            "y": {"field": "b", "type": "quantitative", "scale": {"domain": [0, 12], "nice": false}, "axis": {"orient": "right", "values": [0.5, 1, 1.5, 2.5, 3, 3.5, 4.5, 5, 5.5, 6.5, 7, 7.5, 8.5, 9, 9.5, 10.5, 11, 11.5], "labels": false, "tickSize": -9, "title": null, "zindex": 1}}
          }
        }
      ]
    }
  ]
}
